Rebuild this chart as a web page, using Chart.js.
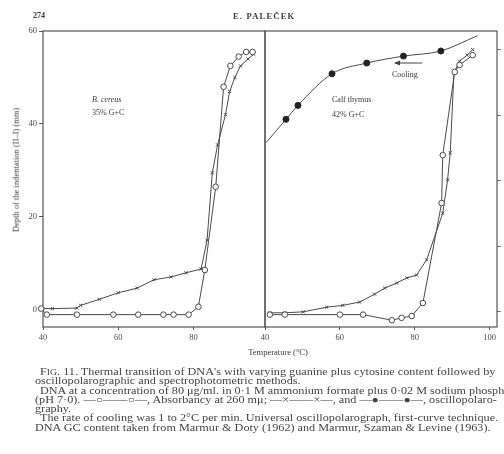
<!DOCTYPE html>
<html>
<head>
<meta charset="utf-8">
<script src="https://cdn.jsdelivr.net/npm/chart.js@4.4.0/dist/chart.umd.min.js"></script>
<style>
    html, body { margin: 0; padding: 0; background: #fff; }
    #page {
        position: relative; width: 504px; height: 454px; overflow: hidden;
        font-family: "Liberation Serif", "DejaVu Serif", serif; color: #3a3a3a;
    }
    canvas { position: absolute; }
    .t { position: absolute; white-space: nowrap; line-height: 1; }
    .cap {
        position: absolute; white-space: nowrap; font-size: 10px; line-height: 1; color: #444;
        transform-origin: 0 0; transform: scaleX(1.22);
    }
</style>
</head>
<body>
<div id="page">
    <canvas id="left" width="266" height="330" style="left:0;top:20px"></canvas>
    <canvas id="right" width="254" height="330" style="left:250px;top:20px"></canvas>

    <div class="t" style="left:33px;top:12px;font-size:8px;font-weight:bold">274</div>
    <div class="t" style="left:233px;top:12px;font-size:8.5px;font-weight:bold;letter-spacing:1.2px">E. PALEČEK</div>

    <div class="t" style="left:16px;top:170px;font-size:8.5px;transform:translate(-50%,-50%) rotate(-90deg)">Depth of the indentation (II–I) (mm)</div>
    <div class="t" style="left:278px;top:352px;font-size:8.5px;transform:translate(-50%,-50%)">Temperature (°C)</div>

    <div class="t" style="left:92px;top:96px;font-size:8px;font-style:italic">B. cereus</div>
    <div class="t" style="left:92px;top:109px;font-size:8px">35% G+C</div>
    <div class="t" style="left:332px;top:96px;font-size:8px">Calf thymus</div>
    <div class="t" style="left:332px;top:111px;font-size:8px">42% G+C</div>
    <div class="t" style="left:392px;top:71px;font-size:8px">Cooling</div>
    <svg style="position:absolute;left:392px;top:59px" width="32" height="8">
        <line x1="3" y1="4" x2="30" y2="4" stroke="#444" stroke-width="1"/>
        <path d="M2,4 L8,1.5 L8,6.5 Z" fill="#444"/>
    </svg>

    <div class="cap" style="left:40px;top:367px">F<span style="font-size:8px">IG</span>. 11. Thermal transition of DNA's with varying guanine plus cytosine content followed by</div>
    <div class="cap" style="left:35px;top:376px">oscillopolarographic and spectrophotometric methods.</div>
    <div class="cap" style="left:40px;top:385.5px">DNA at a concentration of 80 μg/ml. in 0·1 M ammonium formate plus 0·02 M sodium phosphate</div>
    <div class="cap" style="left:35px;top:395px">(pH 7·0). —○——○—, Absorbancy at 260 mμ; —×——×—, and —●——●—, oscillopolaro-</div>
    <div class="cap" style="left:35px;top:404px">graphy.</div>
    <div class="cap" style="left:40px;top:413px">The rate of cooling was 1 to 2°C per min. Universal oscillopolarograph, first-curve technique.</div>
    <div class="cap" style="left:35px;top:422.5px">DNA GC content taken from Marmur &amp; Doty (1962) and Marmur, Szaman &amp; Levine (1963).</div>
</div>

<script>
// ---- data (temperature °C, depth of indentation mm) ----

// left panel: B. cereus
const leftAbsT  = [39.5, 41, 49, 58.7, 65.3, 72, 74.7, 78.7, 81.3, 83, 85.9, 88, 89.8, 92, 94, 95.7];
const leftAbsV  = [0.3, -1, -1, -1, -1, -1, -1, -1, 0.7, 8.6, 26.5, 48, 52.5, 54.5, 55.5, 55.5];
const leftPolT  = [40, 42.5, 49, 50, 55, 60, 65, 69.5, 74, 78, 82, 83.6, 85, 86.4, 88.5, 89.6, 91, 92.5, 94.5, 96];
const leftPolV  = [0.3, 0.3, 0.4, 1.0, 2.3, 3.7, 4.7, 6.5, 7.1, 8.0, 8.8, 15, 29.5, 35.5, 42, 47, 50, 52.5, 54, 55];

// right panel: calf thymus
const rightAbsT = [41.3, 45.3, 60, 66.2, 73.9, 76.5, 79.2, 82.2, 87.2, 87.5, 90.7, 92, 95.5];
const rightAbsV = [-1, -1, -1, -1, -2.2, -1.7, -1.3, 1.5, 23, 33.3, 51.2, 52.7, 54.8];
const rightPolT = [41.3, 45.3, 50.2, 56.5, 60.8, 65.3, 69.3, 72, 75.2, 77.9, 80.5, 83.2, 87.5, 88.8, 89.5, 90.5, 92, 94, 95.5];
const rightPolV = [-0.6, -0.6, -0.4, 0.6, 1, 1.7, 3.4, 4.7, 5.8, 6.9, 7.5, 10.8, 20.8, 28, 33.8, 51, 53.5, 54.8, 56];
const rightCoolT = [40.3, 45.6, 48.8, 57.9, 67.2, 77, 87, 96.8];
const rightCoolV = [36, 41, 44, 50.8, 53.1, 54.6, 55.7, 59];

// axes
const Y_MIN = -3.66, Y_MAX = 60;
const Y_TICKS = [0, 20, 40, 60];
const LEFT_X = [40, 99], RIGHT_X = [40, 102];
const X_TICKS_LEFT = [40, 60, 80];
const X_TICKS_RIGHT = [40, 60, 80, 100];
const RIGHT_AUX_TICKS = [0, 1, 2, 3, 4];   // unlabeled ticks on the right edge

const INK = '#4a4a4a';
const FONT = { family: "'Liberation Serif', 'DejaVu Serif', serif", size: 8.5 };

const pts = (xs, ys) => xs.map((x, i) => ({ x, y: ys[i] }));

// box round the plot area
const framePlugin = {
    id: 'frame',
    beforeDatasetsDraw(chart) {
        const { ctx, chartArea: a } = chart;
        ctx.save();
        ctx.strokeStyle = '#555';
        ctx.lineWidth = 1.2;
        ctx.strokeRect(a.left, a.top, a.right - a.left, a.bottom - a.top);
        ctx.restore();
    }
};

function absSet(data) {
    return {
        data, borderColor: INK, borderWidth: 1, pointStyle: 'circle', pointRadius: 2.8,
        pointBackgroundColor: '#fff', pointBorderColor: INK, pointBorderWidth: 1, tension: 0
    };
}
function polSet(data) {
    return {
        data, borderColor: INK, borderWidth: 1, pointStyle: 'crossRot', pointRadius: 2.2,
        pointBorderColor: INK, pointBorderWidth: 1, tension: 0
    };
}

// no label overhang padding, so the two panels butt against each other
function noOverhang(s) { s.paddingLeft = 0; s.paddingRight = 0; s.paddingTop = 0; s.paddingBottom = 0; }

function xAxis(range, ticks) {
    return {
        type: 'linear', min: range[0], max: range[1],
        afterBuildTicks: s => { s.ticks = ticks.map(v => ({ value: v })); },
        afterFit: s => { s.height = 23; noOverhang(s); },
        grid: { drawOnChartArea: false, drawTicks: true, tickLength: 3, color: '#555' },
        border: { display: false },
        ticks: { color: INK, font: FONT, padding: 3, maxRotation: 0 }
    };
}

const common = {
    responsive: false,
    animation: false,
    clip: false,
    plugins: { legend: { display: false }, tooltip: { enabled: false } },
};

new Chart(document.getElementById('left'), {
    type: 'scatter',
    data: {
        datasets: [
            absSet(pts(leftAbsT, leftAbsV)),
            polSet(pts(leftPolT, leftPolV))
        ]
    },
    options: {
        ...common,
        showLine: true,
        layout: { autoPadding: false, padding: { top: 11, right: 1, left: 0, bottom: 0 } },
        scales: {
            x: xAxis(LEFT_X, X_TICKS_LEFT),
            y: {
                type: 'linear', min: Y_MIN, max: Y_MAX,
                afterBuildTicks: s => { s.ticks = Y_TICKS.map(v => ({ value: v })); },
                afterFit: s => { s.width = 43; noOverhang(s); },
                grid: { drawOnChartArea: false, drawTicks: true, tickLength: 4, color: '#555' },
                border: { display: false },
                ticks: { color: INK, font: FONT, padding: 2 }
            }
        }
    },
    plugins: [framePlugin]
});

// right canvas overlaps the left one by 15px (transparent) so its "40" label is not cut
new Chart(document.getElementById('right'), {
    type: 'scatter',
    data: {
        datasets: [
            absSet(pts(rightAbsT, rightAbsV)),
            polSet(pts(rightPolT, rightPolV)),
            {
                data: pts(rightCoolT, rightCoolV),
                borderColor: INK, borderWidth: 1, cubicInterpolationMode: 'monotone',
                pointStyle: 'circle', pointBackgroundColor: '#222', pointBorderColor: '#222',
                pointRadius: rightCoolT.map((_, i) => (i === 0 || i === rightCoolT.length - 1) ? 0 : 3)
            }
        ]
    },
    options: {
        ...common,
        showLine: true,
        layout: { autoPadding: false, padding: { top: 11, right: 0, left: 15, bottom: 0 } },
        scales: {
            x: xAxis(RIGHT_X, X_TICKS_RIGHT),
            y: { type: 'linear', display: false, min: Y_MIN, max: Y_MAX },
            y1: {
                type: 'linear', position: 'right', min: -0.23, max: 4.29,
                afterBuildTicks: s => { s.ticks = RIGHT_AUX_TICKS.map(v => ({ value: v })); },
                afterFit: s => { s.width = 7; noOverhang(s); },
                grid: { drawOnChartArea: false, drawTicks: true, tickLength: 4, color: '#777' },
                border: { display: false },
                ticks: { display: false }
            }
        }
    },
    plugins: [framePlugin]
});
</script>
</body>
</html>
